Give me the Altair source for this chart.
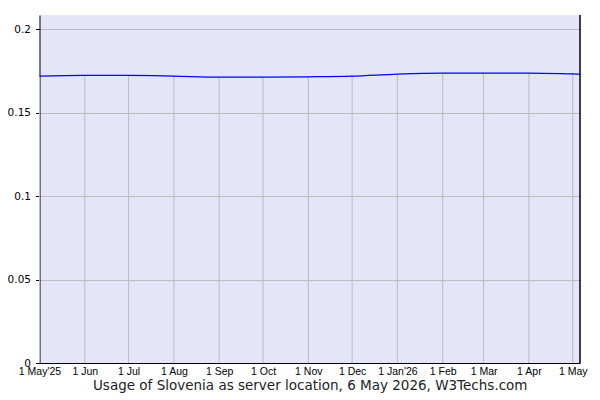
import altair as alt
import pandas as pd

dates = ["2025-05-01", "2025-06-01", "2025-07-01", "2025-08-01", "2025-09-01",
         "2025-10-01", "2025-11-01", "2025-12-01", "2026-01-01", "2026-02-01",
         "2026-03-01", "2026-04-01", "2026-05-01", "2026-05-06"]
values = [0.1718, 0.1722, 0.1722, 0.1718, 0.1712,
          0.1712, 0.1714, 0.1718, 0.1730, 0.1736,
          0.1736, 0.1736, 0.1731, 0.1730]
month_ticks = dates[:13]
y_ticks = [0, 0.05, 0.1, 0.15, 0.2]

df = pd.DataFrame({"date": dates, "value": values})
grid_df = df[df["date"].isin(month_ticks)]

x_scale = alt.Scale(type="utc", domain=["2025-05-01", "2026-05-06"], nice=False)
y_scale = alt.Scale(domain=[0, 0.2084], nice=False, zero=True)

label_expr = ("(utcmonth(datum.value) == 0 || (utcmonth(datum.value) == 4 && utcyear(datum.value) == 2025))"
              " ? '1 ' + utcFormat(datum.value, '%b') + \"'\" + utcFormat(datum.value, '%y')"
              " : '1 ' + utcFormat(datum.value, '%b')")

x_axis = alt.Axis(
    values=[alt.DateTime(year=int(d[:4]), month=int(d[5:7]), date=1, utc=True) for d in month_ticks],
    labelExpr=label_expr, grid=False, ticks=False, domainColor="#000000",
    labelFont="Liberation Sans", labelFontSize=10.5, labelColor="#000000",
    labelPadding=3, labelOverlap=False, labelFlush=False,
    title="Usage of Slovenia as server location, 6 May 2026, W3Techs.com",
    titleFont="DejaVu Sans", titleFontSize=13.5, titleFontWeight="normal",
    titleColor="#222222", titlePadding=2,
)
y_axis = alt.Axis(
    values=y_ticks, grid=True, gridColor="#bbbbbb", gridOpacity=1,
    tickColor="#000000", tickSize=4, domainColor="#000000",
    labelFont="DejaVu Sans", labelFontSize=10.5, labelColor="#000000",
    labelPadding=5, title=None,
    labelExpr="datum.value == 0 ? '0' : format(datum.value, '')",
)

grid = alt.Chart(grid_df).mark_rule(color="#bbbbbb", strokeWidth=1).encode(
    x=alt.X("date:T", scale=x_scale, axis=x_axis),
    y=alt.Y("value:Q", scale=y_scale, axis=y_axis),
    y2=alt.datum(0),
)

line = alt.Chart(df).mark_line(color="#0000ff", strokeWidth=1.2, interpolate="monotone").encode(
    x=alt.X("date:T", scale=x_scale),
    y=alt.Y("value:Q", scale=y_scale),
)

border = alt.Chart(pd.DataFrame({"d": ["2026-05-06"]})).mark_rule(color="#000000", strokeWidth=1.5).encode(
    x=alt.X("d:T", scale=x_scale),
    y=alt.datum(0),
    y2=alt.datum(0.2084),
)

chart = alt.layer(grid, line, border).properties(
    width=540.5, height=348,
    background="#ffffff",
    autosize=alt.AutoSizeParams(type="none"),
    padding={"left": 31.5, "top": 7, "right": 10, "bottom": 34},
).configure_view(
    fill="#e5e5f9", stroke=None,
)

chart.save("out.html", embed_options={"renderer": "svg", "actions": False})
